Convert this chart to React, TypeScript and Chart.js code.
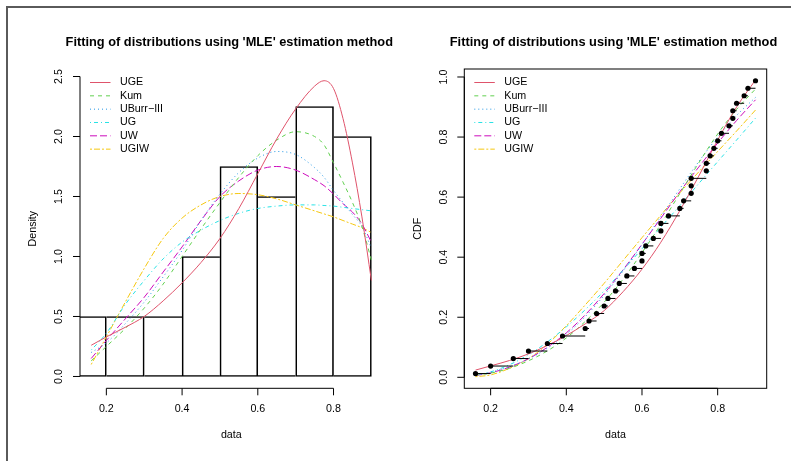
import React, { useEffect, useRef } from "react";
import { Chart, registerables } from "chart.js";
Chart.register(...registerables);

// ---------- data ----------
const SERIES = ["UGE", "Kum", "UBurr\u2212III", "UG", "UW", "UGIW"];
const COLORS = ["#DF536B", "#61D04F", "#2297E6", "#28E2E5", "#CD0BBC", "#F5C710"];
const DASHES: number[][] = [[], [4, 4], [1, 3], [1, 3, 4, 3], [7, 3], [2, 2, 6, 2]];

const histMids = [0.15, 0.25, 0.35, 0.45, 0.55, 0.65, 0.75, 0.85];
const histDensity = [0.5, 0.5, 0.5, 1.0, 1.75, 1.5, 2.25, 2.0];

const densX = [0.16, 0.2, 0.25, 0.3, 0.35, 0.4, 0.45, 0.5, 0.55, 0.6, 0.65, 0.7, 0.75, 0.775, 0.8, 0.825, 0.85, 0.875, 0.9];
const dUGE = [0.26, 0.33, 0.41, 0.5, 0.63, 0.78, 0.95, 1.15, 1.4, 1.69, 1.98, 2.23, 2.42, 2.465, 2.4, 2.15, 1.78, 1.33, 0.8];
const dKum = [0.13, 0.25, 0.4, 0.57, 0.77, 1.0, 1.23, 1.45, 1.66, 1.84, 1.97, 2.04, 2.0, 1.93, 1.78, 1.62, 1.45, 1.25, 0.97];
const dUBurr = [0.2, 0.28, 0.44, 0.62, 0.83, 1.05, 1.3, 1.52, 1.7, 1.82, 1.875, 1.85, 1.74, 1.66, 1.55, 1.45, 1.35, 1.25, 1.07];
const dUG = [0.22, 0.36, 0.6, 0.8, 0.98, 1.12, 1.22, 1.3, 1.36, 1.4, 1.42, 1.43, 1.43, 1.425, 1.42, 1.41, 1.4, 1.39, 1.38];
const dUW = [0.15, 0.3, 0.48, 0.66, 0.87, 1.08, 1.3, 1.5, 1.63, 1.72, 1.75, 1.72, 1.64, 1.59, 1.52, 1.44, 1.37, 1.27, 1.12];
const dUGIW = [0.1, 0.33, 0.62, 0.9, 1.15, 1.32, 1.43, 1.5, 1.525, 1.515, 1.48, 1.43, 1.38, 1.355, 1.33, 1.3, 1.27, 1.24, 1.2];

const cdfX = [0.16, 0.2, 0.25, 0.3, 0.35, 0.4, 0.45, 0.5, 0.55, 0.6, 0.65, 0.7, 0.75, 0.8, 0.85, 0.9];
const cUGE = [0.024, 0.038, 0.056, 0.078, 0.106, 0.139, 0.178, 0.222, 0.285, 0.36, 0.45, 0.555, 0.67, 0.79, 0.9, 0.99];
const cKum = [0.007, 0.014, 0.03, 0.055, 0.088, 0.131, 0.186, 0.25, 0.327, 0.415, 0.51, 0.612, 0.714, 0.81, 0.892, 0.96];
const cUBurr = [0.008, 0.017, 0.035, 0.061, 0.097, 0.143, 0.202, 0.273, 0.354, 0.442, 0.535, 0.628, 0.718, 0.8, 0.872, 0.932];
const cUG = [0.008, 0.018, 0.042, 0.075, 0.118, 0.168, 0.225, 0.288, 0.357, 0.428, 0.5, 0.572, 0.645, 0.718, 0.79, 0.863];
const cUW = [0.006, 0.015, 0.034, 0.062, 0.1, 0.148, 0.208, 0.279, 0.358, 0.443, 0.53, 0.618, 0.7, 0.78, 0.855, 0.924];
const cUGIW = [0.002, 0.008, 0.03, 0.062, 0.11, 0.172, 0.241, 0.313, 0.389, 0.465, 0.54, 0.614, 0.684, 0.752, 0.82, 0.89];

const sampleX = [0.16, 0.2, 0.26, 0.3, 0.35, 0.39, 0.45, 0.46, 0.48, 0.5, 0.51, 0.53, 0.54, 0.56, 0.58, 0.6, 0.6, 0.61, 0.63, 0.65,
  0.65, 0.67, 0.7, 0.71, 0.73, 0.73, 0.73, 0.77, 0.77, 0.78, 0.79, 0.8, 0.81, 0.83, 0.84, 0.84, 0.85, 0.87, 0.88, 0.9];
const ecdfY = [0.0125, 0.0375, 0.0625, 0.0875, 0.1125, 0.1375, 0.1625, 0.1875, 0.2125, 0.2375, 0.2625, 0.2875, 0.3125, 0.3375,
  0.3625, 0.3875, 0.4125, 0.4375, 0.4625, 0.4875, 0.5125, 0.5375, 0.5625, 0.5875, 0.6125, 0.6375, 0.6625, 0.6875, 0.7125,
  0.7375, 0.7625, 0.7875, 0.8125, 0.8375, 0.8625, 0.8875, 0.9125, 0.9375, 0.9625, 0.9875];

const densTicksX = [0.2, 0.4, 0.6, 0.8];
const densTicksY = [0, 0.5, 1.0, 1.5, 2.0, 2.5];
const cdfTicksX = [0.2, 0.4, 0.6, 0.8];
const cdfTicksY = [0, 0.2, 0.4, 0.6, 0.8, 1.0];

const TITLE = "Fitting of distributions using 'MLE' estimation method";
const FONT = '"Liberation Sans", Arial, Helvetica, sans-serif';
const FS = 10.7;

// ---------- R style axes plugin ----------
const rAxes = {
  id: "rAxes",
  afterDraw(chart: any, _args: any, opts: any) {
    const ctx = chart.ctx as CanvasRenderingContext2D;
    const { left, right, top, bottom } = chart.chartArea;
    const xs = chart.scales.x;
    const ys = chart.scales.y;
    ctx.save();
    ctx.strokeStyle = "#000";
    ctx.fillStyle = "#000";
    ctx.lineWidth = 1;
    ctx.setLineDash([]);
    if (opts.box) ctx.strokeRect(left, top, right - left, bottom - top);

    const xt: number[] = xs.ticks.map((t: any) => t.value);
    const yt: number[] = ys.ticks.map((t: any) => t.value);
    ctx.beginPath();
    ctx.moveTo(xs.getPixelForValue(xt[0]), bottom);
    ctx.lineTo(xs.getPixelForValue(xt[xt.length - 1]), bottom);
    xt.forEach((v) => {
      const p = xs.getPixelForValue(v);
      ctx.moveTo(p, bottom);
      ctx.lineTo(p, bottom + 7);
    });
    ctx.moveTo(left, ys.getPixelForValue(yt[0]));
    ctx.lineTo(left, ys.getPixelForValue(yt[yt.length - 1]));
    yt.forEach((v) => {
      const p = ys.getPixelForValue(v);
      ctx.moveTo(left, p);
      ctx.lineTo(left - 7, p);
    });
    ctx.stroke();

    ctx.font = `${FS}px ${FONT}`;
    ctx.textAlign = "center";
    ctx.textBaseline = "middle";
    xt.forEach((v) => ctx.fillText(v.toFixed(1), xs.getPixelForValue(v), bottom + 21));
    yt.forEach((v) => {
      ctx.save();
      ctx.translate(left - 20.5, ys.getPixelForValue(v));
      ctx.rotate(-Math.PI / 2);
      ctx.fillText(v.toFixed(1), 0, 0);
      ctx.restore();
    });
    ctx.fillText(opts.xLabel, (left + right) / 2, 435);
    ctx.save();
    ctx.translate(left - 46.5, (top + bottom) / 2);
    ctx.rotate(-Math.PI / 2);
    ctx.fillText(opts.yLabel, 0, 0);
    ctx.restore();

    ctx.font = `bold 12.8px ${FONT}`;
    ctx.fillText(opts.title, (left + right) / 2 - 2, 42.5);

    // legend
    ctx.font = `${FS}px ${FONT}`;
    ctx.textAlign = "left";
    SERIES.forEach((name, i) => {
      const y = 82.5 + i * 13.33;
      ctx.strokeStyle = COLORS[i];
      ctx.setLineDash(DASHES[i]);
      ctx.beginPath();
      ctx.moveTo(left + 10, y);
      ctx.lineTo(left + 30.5, y);
      ctx.stroke();
      ctx.setLineDash([]);
      ctx.fillStyle = "#000";
      ctx.fillText(name, left + 40, y);
    });
    ctx.restore();
  },
};

function curveSets(xs: number[], series: number[][]) {
  return series.map((vals, i) => ({
    type: "line" as const,
    label: SERIES[i],
    data: xs.map((x, j) => ({ x, y: vals[j] })),
    borderColor: COLORS[i],
    borderDash: DASHES[i],
    borderWidth: 1,
    pointRadius: 0,
    fill: false,
    cubicInterpolationMode: "monotone" as const,
  }));
}

function setTicks(list: number[]) {
  return (s: any) => {
    s.ticks = list.map((v) => ({ value: v }));
  };
}

// shared bar edges are drawn once, by the taller neighbour
function barBorder(c: any) {
  const i = c.dataIndex;
  const h = histDensity;
  const n = h.length;
  const leftW = i === 0 || h[i] > h[i - 1] ? 1 : 0;
  const rightW = i === n - 1 || h[i] >= h[i + 1] ? 1 : 0;
  return { top: 1, bottom: 1, left: leftW, right: rightW };
}

export default function App() {
  const leftRef = useRef<HTMLCanvasElement>(null);
  const rightRef = useRef<HTMLCanvasElement>(null);

  useEffect(() => {
    const left = new Chart(leftRef.current as HTMLCanvasElement, {
      type: "bar",
      data: {
        datasets: [
          ...curveSets(densX, [dUGE, dKum, dUBurr, dUG, dUW, dUGIW]),
          {
            type: "bar",
            label: "hist",
            data: histMids.map((x, i) => ({ x, y: histDensity[i] })),
            backgroundColor: "rgba(0,0,0,0)",
            borderColor: "#000",
            borderWidth: barBorder,
            borderSkipped: false,
            barPercentage: 1,
            categoryPercentage: 1,
          } as any,
        ],
      },
      options: {
        animation: false,
        responsive: false,
        layout: { padding: { left: 80, right: 17.4, top: 69, bottom: 72.7 } },
        scales: {
          x: { type: "linear", min: 0.1304, max: 0.9296, display: false, offset: false, afterBuildTicks: setTicks(densTicksX) },
          y: { type: "linear", min: -0.0986, max: 2.5626, display: false, afterBuildTicks: setTicks(densTicksY) },
        },
        plugins: {
          legend: { display: false },
          tooltip: { enabled: false },
          rAxes: { box: false, title: TITLE, xLabel: "data", yLabel: "Density" },
        } as any,
      },
      plugins: [rAxes],
    });

    const segs: any[] = [];
    for (let i = 0; i < sampleX.length - 1; i++) {
      segs.push({ x: sampleX[i], y: ecdfY[i] });
      segs.push({ x: sampleX[i + 1], y: ecdfY[i] });
      segs.push({ x: sampleX[i + 1], y: null });
    }

    const right = new Chart(rightRef.current as HTMLCanvasElement, {
      type: "line",
      data: {
        datasets: [
          {
            type: "line",
            label: "points",
            data: sampleX.map((x, i) => ({ x, y: ecdfY[i] })),
            showLine: false,
            pointRadius: 2.6,
            pointBackgroundColor: "#000",
            pointBorderColor: "#000",
            pointBorderWidth: 0,
          },
          {
            type: "line",
            label: "steps",
            data: segs,
            borderColor: "#000",
            borderWidth: 1,
            pointRadius: 0,
            spanGaps: false,
          },
          ...curveSets(cdfX, [cUGE, cKum, cUBurr, cUG, cUW, cUGIW]),
        ] as any,
      },
      options: {
        animation: false,
        responsive: false,
        layout: { padding: { left: 64.3, right: 24.3, top: 69, bottom: 72.7 } },
        scales: {
          x: { type: "linear", min: 0.1304, max: 0.9296, display: false, afterBuildTicks: setTicks(cdfTicksX) },
          y: { type: "linear", min: -0.0366, max: 1.0266, display: false, afterBuildTicks: setTicks(cdfTicksY) },
        },
        plugins: {
          legend: { display: false },
          tooltip: { enabled: false },
          rAxes: { box: true, title: TITLE, xLabel: "data", yLabel: "CDF" },
        } as any,
      },
      plugins: [rAxes],
    });

    return () => {
      left.destroy();
      right.destroy();
    };
  }, []);

  return (
    <div style={{ position: "absolute", left: 0, top: 0, width: 791, height: 461, background: "#fff", overflow: "hidden" }}>
      <canvas ref={leftRef} width={400} height={461} style={{ position: "absolute", left: 0, top: 0, width: 400, height: 461 }} />
      <canvas ref={rightRef} width={391} height={461} style={{ position: "absolute", left: 400, top: 0, width: 391, height: 461 }} />
      <div
        style={{
          position: "absolute",
          left: 6,
          top: 6,
          width: 800,
          height: 470,
          borderTop: "2px solid #5a5a5a",
          borderLeft: "2px solid #5a5a5a",
          pointerEvents: "none",
        }}
      />
    </div>
  );
}
